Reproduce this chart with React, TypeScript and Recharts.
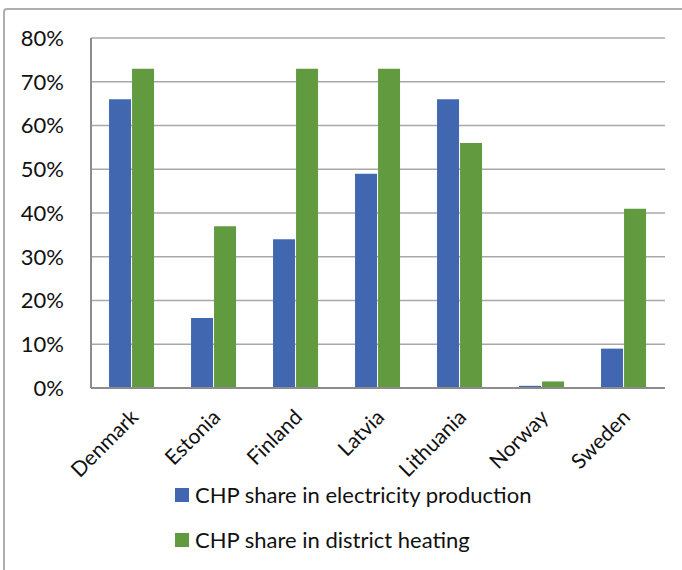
import React from 'react'
import { BarChart, Bar, XAxis, YAxis, CartesianGrid } from 'recharts'

const countries = ['Denmark', 'Estonia', 'Finland', 'Latvia', 'Lithuania', 'Norway', 'Sweden']
const electricity = [0.66, 0.16, 0.34, 0.49, 0.66, 0.005, 0.09]
const heating = [0.73, 0.37, 0.73, 0.73, 0.56, 0.015, 0.41]
const yTicks = [0, 0.1, 0.2, 0.3, 0.4, 0.5, 0.6, 0.7, 0.8]

const data = countries.map((c, i) => ({ country: c, electricity: electricity[i], heating: heating[i] }))

const BLUE = '#4167B1'
const GREEN = '#629B3F'
const FONT = 'Lato, "Open Sans", sans-serif'

const series = [
  { key: 'electricity', name: 'CHP share in electricity production', color: BLUE },
  { key: 'heating', name: 'CHP share in district heating', color: GREEN },
]

export default function App() {
  return (
    <div style={{ position: 'fixed', left: 0, top: 0, width: 682, height: 570, background: '#fff', overflow: 'hidden' }}>
      <div style={{ position: 'absolute', left: 3, top: 8, width: 700, height: 600, borderLeft: '2px solid #AFAFAF', borderTop: '2px solid #AFAFAF', borderTopLeftRadius: 4 }} />
      <BarChart
        width={682}
        height={570}
        data={data}
        margin={{ top: 38, right: 17, left: 0, bottom: 0 }}
        barCategoryGap="22%"
        barGap={1}
        style={{ position: 'absolute', left: 0, top: 0 }}
      >
        <CartesianGrid vertical={false} stroke="#A8A8A8" strokeWidth={1.5} />
        <XAxis
          dataKey="country"
          height={182}
          interval={0}
          angle={-45}
          textAnchor="end"
          tickLine={false}
          axisLine={{ stroke: '#8C8C8C', strokeWidth: 2 }}
          tick={{ fontFamily: FONT, fontSize: 21, fill: '#111', dx: -3 }}
          tickMargin={14}
        />
        <YAxis
          width={91}
          domain={[0, 0.8]}
          ticks={yTicks}
          tickFormatter={(v: number) => `${Math.round(v * 100)}%`}
          tickLine={false}
          tickSize={0}
          tickMargin={27}
          axisLine={{ stroke: '#8C8C8C', strokeWidth: 2 }}
          tick={{ fontFamily: FONT, fontSize: 22, fill: '#111' }}
        />
        {series.map((s) => (
          <Bar key={s.key} dataKey={s.key} name={s.name} fill={s.color} isAnimationActive={false} />
        ))}
      </BarChart>
      <div style={{ position: 'absolute', left: 175, top: 472, fontFamily: FONT, fontSize: 22, color: '#111' }}>
        {series.map((s) => (
          <div key={s.key} style={{ display: 'flex', alignItems: 'center', height: 45 }}>
            <span style={{ display: 'inline-block', width: 14, height: 14, background: s.color, marginRight: 6 }} />
            {s.name}
          </div>
        ))}
      </div>
    </div>
  )
}
